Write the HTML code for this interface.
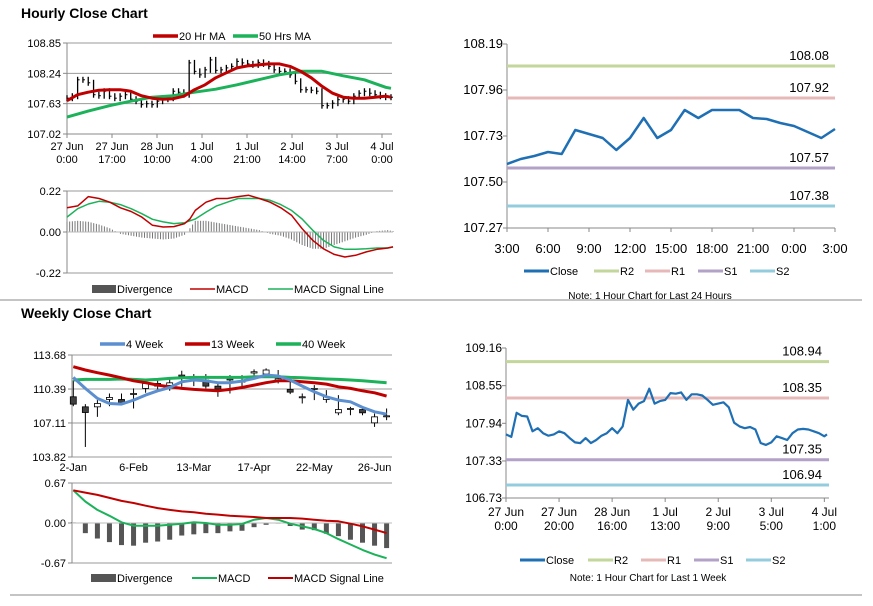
<!DOCTYPE html>
<html><head><meta charset="utf-8"><style>
body{margin:0;background:#fff;width:873px;height:601px;overflow:hidden}
svg{font-family:"Liberation Sans",Arial,sans-serif}
</style></head><body>
<svg id="s" width="873" height="601" viewBox="0 0 873 601" xmlns="http://www.w3.org/2000/svg">
<text x="21" y="18" font-size="14" font-weight="bold">Hourly Close Chart</text>
<text x="21" y="318" font-size="14" font-weight="bold">Weekly Close Chart</text>
<line x1="0" y1="300" x2="862" y2="300" stroke="#888"/>
<line x1="10" y1="595" x2="862" y2="595" stroke="#888"/>
</svg>
<script>
// ---- Hourly price (top-left) ----
const hCloseHours=[0,2,4,6,8,10,12,14,16,18,20,22,24,26,28,30,32,34,36,38,40,42,44,46,48,50,52,54,56,58,60,62,64,66,68,70,72,74,76,78,80,82,84,86,88,90,92,94,96,98,100,102,104,106,108,110,112,114,116,118,120,122];
const hClose=[107.74,107.78,108.11,108.11,108.05,107.81,107.79,107.88,107.78,107.74,107.78,107.81,107.72,107.68,107.61,107.63,107.61,107.68,107.72,107.74,107.88,107.86,107.81,108.45,108.28,108.21,108.31,108.51,108.30,108.31,108.35,108.38,108.48,108.45,108.43,108.41,108.46,108.43,108.38,108.31,108.28,108.28,108.21,108.08,107.91,107.91,107.90,107.88,107.59,107.59,107.64,107.71,107.72,107.68,107.78,107.84,107.88,107.84,107.81,107.78,107.76,107.76];
const ma20Hours=[0,4,8,12,16,20,24,28,32,36,40,44,48,52,56,60,64,68,72,76,80,84,88,92,96,100,104,108,112,116,120,122];
const ma20=[107.69,107.81,107.86,107.90,107.91,107.91,107.88,107.79,107.74,107.72,107.73,107.78,107.91,108.01,108.15,108.25,108.35,108.39,108.41,108.43,108.43,108.38,108.28,108.15,107.98,107.84,107.76,107.74,107.74,107.76,107.78,107.76];
const ma50Hours=[0,8,16,24,32,40,48,56,64,72,80,88,96,104,112,120,122];
const ma50=[107.36,107.48,107.59,107.68,107.76,107.79,107.86,107.92,108.01,108.11,108.21,108.28,108.28,108.19,108.11,107.96,107.94];
const hPriceTicks=["108.85","108.24","107.63","107.02"];
const hDateLabels=[["27 Jun","0:00"],["27 Jun","17:00"],["28 Jun","10:00"],["1 Jul","4:00"],["1 Jul","21:00"],["2 Jul","14:00"],["3 Jul","7:00"],["4 Jul","0:00"]];
// ---- Hourly MACD ----
const hmHours=[0,4,8,12,16,20,24,28,32,36,40,44,46,48,52,56,60,64,68,72,76,80,84,88,92,96,100,104,108,112,116,120,122];
const hMacd=[0.13,0.14,0.19,0.18,0.16,0.13,0.11,0.08,0.036,0.027,0.029,0.045,0.07,0.116,0.16,0.18,0.18,0.19,0.197,0.18,0.16,0.13,0.09,0.018,-0.045,-0.09,-0.12,-0.134,-0.125,-0.107,-0.093,-0.086,-0.08];
const hSignal=[0.08,0.125,0.15,0.165,0.16,0.147,0.125,0.098,0.068,0.054,0.045,0.05,0.06,0.07,0.107,0.14,0.16,0.18,0.18,0.18,0.17,0.147,0.116,0.07,0.009,-0.045,-0.08,-0.093,-0.093,-0.09,-0.086,-0.086,-0.08];
const hDiv=[0.055,0.06,0.055,0.04,0.02,-0.01,-0.02,-0.03,-0.035,-0.04,-0.035,-0.015,0.02,0.06,0.06,0.05,0.04,0.03,0.02,0.01,-0.01,-0.02,-0.04,-0.07,-0.09,-0.09,-0.07,-0.05,-0.03,-0.015,0.005,0.01,0.005];
const hMacdTicks=["0.22","0.00","-0.22"];
// ---- Right top 24h ----
const d24Labels=["3:00","6:00","9:00","12:00","15:00","18:00","21:00","0:00","3:00"];
const d24Close=[107.59,107.615,107.63,107.65,107.64,107.76,107.74,107.72,107.66,107.72,107.82,107.72,107.76,107.86,107.82,107.86,107.86,107.86,107.82,107.815,107.795,107.78,107.75,107.72,107.765];
const d24Levels=[108.08,107.92,107.57,107.38];
const d24Ticks=["108.19","107.96","107.73","107.50","107.27"];
// ---- Weekly candles ----
const wkLabels=["2-Jan","6-Feb","13-Mar","17-Apr","22-May","26-Jun"];
const wOpen=[109.64,108.67,108.67,109.38,109.38,109.87,110.45,110.93,110.74,111.65,111.32,111.26,110.67,111.36,111.16,111.94,111.84,111.26,110.35,109.64,110.45,109.38,108.09,108.51,108.41,107.12,107.80];
const wClose=[108.93,108.12,108.99,109.58,109.06,109.96,110.93,110.67,110.99,111.74,111.26,110.67,110.38,111.36,111.16,112.06,112.23,111.39,110.09,109.64,110.45,109.64,108.41,108.51,108.09,107.70,107.80];
const wHigh=[111.22,108.93,109.32,109.96,109.96,110.45,111.26,111.26,111.32,112.16,111.84,111.84,110.93,111.74,111.74,112.29,112.39,112.23,111.65,109.96,110.77,110.29,109.80,108.67,108.51,108.02,108.51];
const wLow=[108.73,104.79,107.70,108.73,108.83,108.51,110.03,110.36,110.22,110.61,110.67,110.45,109.64,109.96,110.61,111.65,111.58,110.93,109.90,108.99,109.32,109.06,107.86,107.86,107.86,106.73,107.38];
const w4=[111.51,110.45,109.48,108.99,108.93,109.32,109.80,110.22,110.54,111.09,111.26,111.19,111.00,111.00,111.16,111.42,111.74,111.65,111.26,110.67,110.12,109.64,109.32,109.16,108.61,108.19,107.96];
const w13=[112.55,112.23,111.97,111.74,111.48,111.19,111.00,110.77,110.61,110.45,110.35,110.29,110.22,110.35,110.54,110.77,111.00,111.19,111.19,111.09,111.00,110.87,110.61,110.45,110.22,110.03,109.71];
const w40=[111.26,111.32,111.32,111.32,111.36,111.32,111.26,111.32,111.42,111.48,111.51,111.51,111.51,111.51,111.51,111.58,111.58,111.58,111.51,111.48,111.42,111.36,111.32,111.26,111.19,111.09,111.00];
const wTicks=["113.68","110.39","107.11","103.82"];
// ---- Weekly MACD ----
const wMacd=[0.547,0.36,0.22,0.12,0.011,-0.045,-0.045,-0.045,-0.028,-0.011,0.011,0,-0.028,-0.028,-0.017,0.056,0.084,0.056,-0.011,-0.056,-0.1,-0.17,-0.27,-0.36,-0.45,-0.53,-0.59];
const wSignal=[0.547,0.51,0.47,0.42,0.37,0.335,0.29,0.25,0.22,0.195,0.18,0.156,0.14,0.123,0.11,0.10,0.084,0.084,0.084,0.073,0.056,0.039,0.028,-0.011,-0.056,-0.11,-0.17];
const wDiv=[0.01,-0.17,-0.26,-0.32,-0.37,-0.38,-0.33,-0.31,-0.28,-0.21,-0.19,-0.17,-0.17,-0.14,-0.13,-0.07,-0.03,-0.01,-0.05,-0.11,-0.12,-0.18,-0.22,-0.28,-0.33,-0.38,-0.42];
const wMacdTicks=["0.67","0.00","-0.67"];
// ---- Right bottom week ----
const wkHours=[0,2,4,6,8,10,12,14,16,18,20,22,24,26,28,30,32,34,36,38,40,42,44,46,48,50,52,54,56,58,60,62,64,66,68,70,72,74,76,78,80,82,84,86,88,90,92,94,96,98,100,102,104,106,108,110,112,114,116,118,120,121];
const wkClose=[107.76,107.72,108.11,108.06,108.05,107.81,107.86,107.78,107.74,107.76,107.81,107.78,107.70,107.63,107.62,107.70,107.62,107.67,107.74,107.78,107.86,107.78,107.89,108.32,108.16,108.26,108.30,108.50,108.26,108.30,108.32,108.43,108.42,108.44,108.32,108.41,108.41,108.39,108.32,108.24,108.26,108.28,108.20,107.95,107.89,107.86,107.88,107.84,107.62,107.59,107.63,107.73,107.70,107.67,107.78,107.84,107.85,107.84,107.81,107.78,107.73,107.76];
const wkLevels=[108.94,108.35,107.35,106.94];
const wkTicks=["109.16","108.55","107.94","107.33","106.73"];
const wkDateLabels=[["27 Jun","0:00"],["27 Jun","20:00"],["28 Jun","16:00"],["1 Jul","13:00"],["2 Jul","9:00"],["3 Jul","5:00"],["4 Jul","1:00"]];

const S=document.getElementById('s');const NS='http://www.w3.org/2000/svg';
function mk(tag,at,name,txt){const e=document.createElementNS(NS,tag);for(const k in at)e.setAttribute(k,at[k]);


if(txt!==undefined)e.textContent=txt;S.appendChild(e);return e;}
function lin(d0,d1,r0,r1){return v=>r0+(v-d0)/(d1-d0)*(r1-r0);}
function poly(xs,ys,fx,fy,col,w,name){mk('polyline',{points:xs.map((x,i)=>fx(x).toFixed(1)+','+fy(ys[i]).toFixed(1)).join(' '),fill:'none',stroke:col,'stroke-width':w,'stroke-linejoin':'round'},name);}
function yAxis(ticks,fy,x0,x1,lx,name,grid,fs){ticks.forEach(t=>{const y=fy(parseFloat(t));
 if(grid)mk('line',{x1:x0,x2:x1,y1:y,y2:y,stroke:'#999','stroke-width':1},name+'-grid');
 mk('line',{x1:x0-4,x2:x0,y1:y,y2:y,stroke:'#888'},name+'-tick');
 mk('text',{x:lx,y:y+4,'font-size':fs||11,'text-anchor':'end'},name+'-label',t);});}
function legend(items,y){items.forEach(it=>{mk('line',{x1:it[0],x2:it[0]+(it[4]||20),y1:y,y2:y,stroke:it[2],'stroke-width':it[3]},'legend-swatch');
 mk('text',{x:it[0]+(it[4]||20)+1,y:y+4,'font-size':11},'legend-entry',it[1]);});}

// Top-left price
{const fx=lin(0,122,67,391),fy=lin(107.02,108.85,134,43);
 yAxis(hPriceTicks,fy,67,392,61,'hourly-price-y',true);
 mk('line',{x1:67,x2:67,y1:43,y2:134,stroke:'#888'},'hourly-price-y-axis');
 mk('line',{x1:67,x2:392,y1:134,y2:134,stroke:'#888'},'hourly-price-x-axis');
 hDateLabels.forEach((l,i)=>{const x=67+i*45;mk('line',{x1:x,x2:x,y1:134,y2:138,stroke:'#888'},'x-tick');
  mk('text',{x:x,y:150,'font-size':11,'text-anchor':'middle'},'x-tick-label',l[0]);mk('text',{x:x,y:163,'font-size':11,'text-anchor':'middle'},'x-tick-label',l[1]);});
 hClose.forEach((c,i)=>{const p=i?hClose[i-1]:c;const x=fx(hCloseHours[i]);const hi=Math.max(p,c),lo=Math.min(p,c);
  mk('line',{x1:x,x2:x,y1:fy(hi)-3,y2:fy(lo)+3,stroke:'#000','stroke-width':1.3},'hourly-bar');
  mk('line',{x1:x,x2:x+2,y1:fy(c),y2:fy(c),stroke:'#000'},'hourly-bar-close');});
 poly(ma50Hours,ma50,fx,fy,'#1bb25a',3,'ma50-line');poly(ma20Hours,ma20,fx,fy,'#c00000',3,'ma20-line');
 legend([[153,'20 Hr MA','#c00000',3.5,25],[233,'50 Hrs MA','#1bb25a',3.5,25]],36);}
// Top-left MACD
{const fx=lin(0,122,67,393),fy=lin(-0.22,0.22,273,191);
 yAxis(hMacdTicks,fy,67,393,61,'hourly-macd-y',false);
 mk('line',{x1:67,x2:393,y1:191,y2:191,stroke:'#999'},'macd-top-grid');mk('line',{x1:67,x2:393,y1:273,y2:273,stroke:'#999'},'macd-bottom-grid');
 mk('line',{x1:67,x2:67,y1:191,y2:273,stroke:'#888'},'hourly-macd-y-axis');
 for(let h=0;h<=122;h+=1){let k=0;while(k<hmHours.length-2&&hmHours[k+1]<h)k++;const t=(h-hmHours[k])/(hmHours[k+1]-hmHours[k]);const v=hDiv[k]+(hDiv[k+1]-hDiv[k])*Math.min(1,Math.max(0,t));
  const x=fx(h);mk('line',{x1:x,x2:x,y1:fy(0),y2:fy(v),stroke:'#777','stroke-width':1},'divergence-bar');}
 mk('line',{x1:67,x2:393,y1:fy(0),y2:fy(0),stroke:'#bbb'},'zero-line');
 poly(hmHours,hSignal,fx,fy,'#1bb25a',1.5,'signal-line');poly(hmHours,hMacd,fx,fy,'#c00000',1.5,'macd-line');
 mk('rect',{x:92,y:285,width:24,height:8,fill:'#555'},'legend-swatch');mk('text',{x:117,y:293,'font-size':11},'legend-entry','Divergence');
 legend([[190,'MACD','#c00000',1.5,25],[268,'MACD Signal Line','#1bb25a',1.5,25]],289);}
// Right top
{const fx=lin(0,24,507,835),fy=lin(107.27,108.19,228,44);
 yAxis(d24Ticks,fy,507,835,503,'d24-y',false,13);
 mk('line',{x1:507,x2:507,y1:44,y2:228,stroke:'#888'},'d24-y-axis');mk('line',{x1:507,x2:835,y1:228,y2:228,stroke:'#888'},'d24-x-axis');
 d24Labels.forEach((l,i)=>{const x=fx(i*3);mk('line',{x1:x,x2:x,y1:228,y2:232,stroke:'#888'},'x-tick');mk('text',{x:x,y:253,'font-size':13,'text-anchor':'middle'},'x-tick-label',l);});
 const cols=['#c3d69b','#e6b9b8','#b3a2c7','#93cddd'],nm=['r2','r1','s1','s2'];
 d24Levels.forEach((v,i)=>{mk('line',{x1:507,x2:835,y1:fy(v),y2:fy(v),stroke:cols[i],'stroke-width':3},nm[i]+'-level');mk('text',{x:829,y:fy(v)-6,'font-size':13,'text-anchor':'end'},nm[i]+'-label',v.toFixed(2));});
 poly(d24Close.map((_,i)=>i),d24Close,fx,fy,'#1f6fb5',2.5,'close-line');
 legend([[524,'Close','#1f6fb5',3,25],[594,'R2','#c3d69b',3,25],[645,'R1','#e6b9b8',3,25],[698,'S1','#b3a2c7',3,25],[750,'S2','#93cddd',3,25]],271);
 mk('text',{x:650,y:299,'font-size':10,'text-anchor':'middle'},'note','Note: 1 Hour Chart for Last 24 Hours');}
// Weekly candles
{const fx=i=>73.3+i*12.05,fy=lin(103.82,113.68,457,355);
 yAxis(wTicks,fy,72,392,66,'weekly-y',true);
 mk('line',{x1:72,x2:72,y1:355,y2:457,stroke:'#888'},'weekly-y-axis');
 wkLabels.forEach((l,i)=>mk('text',{x:fx(i*5),y:471,'font-size':11,'text-anchor':'middle'},'x-tick-label',l));
 wOpen.forEach((o,i)=>{const c=wClose[i],x=fx(i);mk('line',{x1:x,x2:x,y1:fy(wHigh[i]),y2:fy(wLow[i]),stroke:'#000'},'candle-wick');
  const t=fy(Math.max(o,c)),b=fy(Math.min(o,c));mk('rect',{x:x-3,y:t,width:6,height:Math.max(1,b-t),fill:c<o?'#404040':'#fff',stroke:'#000','stroke-width':0.8},'candle-body');});
 poly(w40.map((_,i)=>i),w40,fx,fy,'#1bb25a',3,'ma40w-line');poly(w13.map((_,i)=>i),w13,fx,fy,'#c00000',3,'ma13w-line');poly(w4.map((_,i)=>i),w4,fx,fy,'#5b8fd0',3,'ma4w-line');
 legend([[100,'4 Week','#5b8fd0',3.5,25],[185,'13 Week','#c00000',3.5,25],[276,'40 Week','#1bb25a',3.5,25]],344);}
// Weekly MACD
{const fx=i=>73.3+i*12.05,fy=lin(-0.67,0.67,563,483);
 yAxis(wMacdTicks,fy,72,392,66,'weekly-macd-y',false);
 mk('line',{x1:72,x2:392,y1:483,y2:483,stroke:'#999'},'macd-top-grid');mk('line',{x1:72,x2:392,y1:563,y2:563,stroke:'#999'},'macd-bottom-grid');
 mk('line',{x1:72,x2:72,y1:483,y2:563,stroke:'#888'},'weekly-macd-y-axis');
 wDiv.forEach((v,i)=>{const y0=fy(0),y1=fy(v);mk('rect',{x:fx(i)-2.5,y:Math.min(y0,y1),width:5,height:Math.abs(y1-y0),fill:'#555'},'divergence-bar');});
 mk('line',{x1:72,x2:392,y1:fy(0),y2:fy(0),stroke:'#bbb'},'zero-line');
 poly(wMacd.map((_,i)=>i),wMacd,fx,fy,'#1bb25a',2,'weekly-macd-line');poly(wSignal.map((_,i)=>i),wSignal,fx,fy,'#c00000',2,'weekly-signal-line');
 mk('rect',{x:91,y:574,width:25,height:8,fill:'#555'},'legend-swatch');mk('text',{x:117,y:582,'font-size':11},'legend-entry','Divergence');
 legend([[192,'MACD','#1bb25a',2,25],[268,'MACD Signal Line','#c00000',2,25]],578);}
// Right bottom
{const fx=lin(0,121,506,827),fy=lin(106.73,109.16,498,348);
 yAxis(wkTicks,fy,506,829,502,'wk-y',false,12);
 mk('line',{x1:506,x2:506,y1:348,y2:498,stroke:'#888'},'wk-y-axis');mk('line',{x1:506,x2:829,y1:498,y2:498,stroke:'#888'},'wk-x-axis');
 wkDateLabels.forEach((l,i)=>{const x=fx(i*20);mk('line',{x1:x,x2:x,y1:498,y2:502,stroke:'#888'},'x-tick');
  mk('text',{x:x,y:516,'font-size':12,'text-anchor':'middle'},'x-tick-label',l[0]);mk('text',{x:x,y:530,'font-size':12,'text-anchor':'middle'},'x-tick-label',l[1]);});
 const cols=['#c3d69b','#e6b9b8','#b3a2c7','#93cddd'],nm=['r2','r1','s1','s2'];
 wkLevels.forEach((v,i)=>{mk('line',{x1:506,x2:829,y1:fy(v),y2:fy(v),stroke:cols[i],'stroke-width':3},nm[i]+'-level');mk('text',{x:822,y:fy(v)-6,'font-size':13,'text-anchor':'end'},nm[i]+'-label',v.toFixed(2));});
 poly(wkHours,wkClose,fx,fy,'#1f6fb5',2.2,'weekly-close-line');
 legend([[520,'Close','#1f6fb5',3,25],[588,'R2','#c3d69b',3,25],[641,'R1','#e6b9b8',3,25],[694,'S1','#b3a2c7',3,25],[746,'S2','#93cddd',3,25]],560);
 mk('text',{x:648,y:581,'font-size':10,'text-anchor':'middle'},'note','Note: 1 Hour Chart for Last 1 Week');}
</script>
</body></html>
